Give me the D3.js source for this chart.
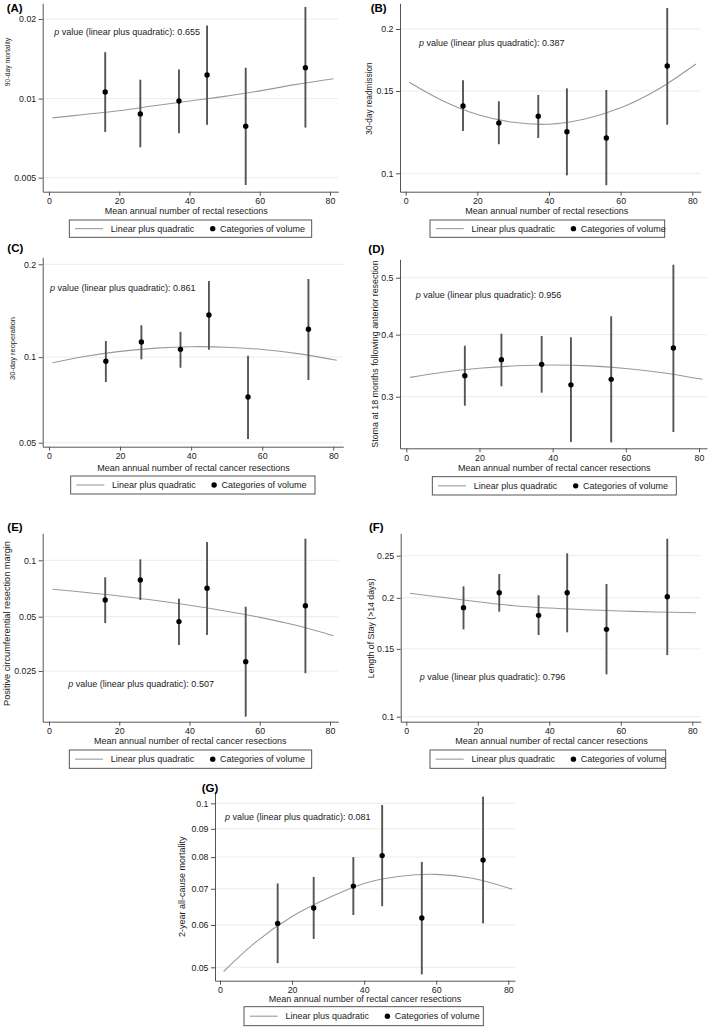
<!DOCTYPE html>
<html>
<head>
<meta charset="utf-8">
<script src="https://cdn.jsdelivr.net/npm/d3@7"></script>
<style>
html,body{margin:0;padding:0;background:#fff;}
svg{display:block;font-family:"Liberation Sans",Arial,sans-serif;}
</style>
</head>
<body>
<svg id="chart" width="709" height="1028"></svg>
<script>
// ---------------- DATA ----------------
const panelIds = ["A","B","C","D","E","F","G"];
const yTitles = [
  "90-day mortality",
  "30-day readmission",
  "30-day reoperation",
  "Stoma at 18 months following anterior resection",
  "Positive circumferential resection margin",
  "Length of Stay (>14 days)",
  "2-year all-cause mortality"
];
const xTitles = [
  "Mean annual number of rectal resections",
  "Mean annual number of rectal resections",
  "Mean annual number of rectal cancer resections",
  "Mean annual number of rectal cancer resections",
  "Mean annual number of rectal cancer resections",
  "Mean annual number of rectal cancer resections",
  "Mean annual number of rectal cancer resections"
];
const pValues = ["0.655","0.387","0.861","0.956","0.507","0.796","0.081"];
const xTicks = [0,20,40,60,80];
const yTicks = [
  [0.02,0.01,0.005],
  [0.2,0.15,0.1],
  [0.2,0.1,0.05],
  [0.5,0.4,0.3],
  [0.1,0.05,0.025],
  [0.25,0.2,0.15,0.1],
  [0.1,0.09,0.08,0.07,0.06,0.05]
];
const yTickLabels = [
  ["0.02","0.01","0.005"],
  ["0.2","0.15","0.1"],
  ["0.2","0.1","0.05"],
  ["0.5","0.4","0.3"],
  ["0.1","0.05","0.025"],
  ["0.25","0.2","0.15","0.1"],
  ["0.1","0.09","0.08","0.07","0.06","0.05"]
];
// categories of volume (x position of each category)
const volumeX = [16,26,37,45,56,73];
const estimates = [
  [0.0106,0.00875,0.0098,0.0123,0.00785,0.0131],
  [0.1396,0.1285,0.1328,0.1231,0.1193,0.1688],
  [0.0968,0.1126,0.1063,0.1384,0.0727,0.1241],
  [0.3323,0.358,0.3505,0.318,0.3266,0.3774],
  [0.0616,0.0789,0.047,0.0712,0.0282,0.0574],
  [0.1895,0.2057,0.1816,0.2057,0.1678,0.2012],
  [0.0604,0.0645,0.0708,0.0805,0.0618,0.079]
];
const lowerCI = [
  [0.00747,0.00653,0.00739,0.00795,0.00469,0.00776],
  [0.1235,0.1157,0.1193,0.099,0.0941,0.1274],
  [0.0821,0.0983,0.092,0.106,0.0516,0.0834],
  [0.2867,0.3157,0.306,0.237,0.2364,0.25],
  [0.0462,0.0616,0.0349,0.0397,0.0138,0.0243],
  [0.1678,0.1853,0.1625,0.165,0.1292,0.1447],
  [0.0509,0.0565,0.0626,0.065,0.0485,0.0604]
];
const upperCI = [
  [0.015,0.0118,0.0129,0.0189,0.0131,0.0222],
  [0.1578,0.1428,0.1472,0.1519,0.1507,0.2195],
  [0.1134,0.128,0.1217,0.1777,0.1011,0.1802],
  [0.3812,0.4016,0.3976,0.3954,0.4318,0.5231],
  [0.0815,0.1012,0.0626,0.124,0.0567,0.1289],
  [0.2129,0.2273,0.2028,0.2531,0.2156,0.2724],
  [0.0716,0.0736,0.08,0.0993,0.0784,0.1028]
];
// fitted linear-plus-quadratic curve, read at these x values
const fitX = [1,10,20,30,40,50,60,70,81];
const fitted = [
  [0.00845,0.0087,0.009,0.0094,0.0098,0.0102,0.0107,0.0113,0.0119],
  [0.1563,0.1435,0.1339,0.1289,0.1277,0.131,0.1383,0.1505,0.1704],
  [0.0957,0.1005,0.1046,0.1073,0.1085,0.1081,0.1062,0.1028,0.0976],
  [0.3297,0.3378,0.3442,0.3481,0.3494,0.348,0.3437,0.337,0.3266],
  [0.0704,0.0678,0.0648,0.0614,0.0577,0.0537,0.0496,0.045,0.0393],
  [0.205,0.2006,0.1958,0.1916,0.1891,0.1874,0.186,0.185,0.1843],
  [0.0491,0.0558,0.0622,0.0673,0.0716,0.0738,0.0744,0.0732,0.0699]
];
const legendLabels = ["Linear plus quadratic","Categories of volume"];

// ---------------- LAYOUT (pixels) ----------------
const layout = [
  {l:42.7,r:338.3,t:3.3,b:191.7,x0:49,x80:330,yc:[19,177.7],lab:[6.7,7.5],pt:[54.3,32],xt:[186.3,211],yt:[7,62,6.8],lg:[69.3,220,311.7,237.3]},
  {l:400,r:700.7,t:3.3,b:191.7,x0:405.7,x80:692.3,yc:[29,173.3],lab:[370.7,8.3],pt:[419,43.3],xt:[546.8,211],yt:[368.5,98.5,8.3],lg:[430,220,664.7,237.3]},
  {l:42.7,r:343.3,t:257.3,b:446.7,x0:49,x80:333.3,yc:[264.3,442.7],lab:[7.3,248.3],pt:[50,288.3],xt:[193.5,468.3],yt:[12,348.5,7.5],lg:[70.7,476,315,494]},
  {l:400,r:707,t:259.3,b:448.3,x0:406.3,x80:699,yc:[277.7,396.7],lab:[368.3,248.7],pt:[415.7,295],xt:[554.2,468.3],yt:[374.5,354,8.9],lg:[432.3,476.7,676.3,495]},
  {l:42.7,r:338.3,t:533.3,b:721.7,x0:49,x80:330,yc:[560.3,671],lab:[7.3,527],pt:[68.3,684],xt:[190.2,741],yt:[6.7,623.5,9.2],lg:[69.3,750,311.7,768.3]},
  {l:400.7,r:700.7,t:533.3,b:721.7,x0:406.3,x80:692.3,yc:[555.7,716.7],lab:[369,527],pt:[419.7,676.7],xt:[551.5,741],yt:[370.7,628.3,8.7],lg:[430,750,665.7,768.3]},
  {l:215,r:515,t:791.7,b:980.7,x0:220,x80:508.3,yc:[803.3,967.3],lab:[201.7,788.3],pt:[225,816.7],xt:[365,999.3],yt:[182,886.7,9],lg:[244,1006.7,483.3,1025.7]}
];

// ---------------- DRAW ----------------
const logit = p => Math.log(p/(1-p));
const svg = d3.select("#chart");
const TEXT = "#1a1a1a", AXIS = "#555", GRID = "#ececec", CURVE = "#9a9a9a", CI = "#555";

panelIds.forEach((id, i) => {
  const L = layout[i];
  const g = svg.append("g");
  const ticks = yTicks[i];
  const xc = d3.scaleLinear().domain([0,80]).range([L.x0, L.x80]);
  const x = d3.scaleLinear().domain([xc.invert(L.l), xc.invert(L.r)]).range([L.l, L.r]);
  const yc = d3.scaleLinear()
    .domain([logit(ticks[0]), logit(ticks[ticks.length-1])])
    .range(L.yc);
  const y = d3.scaleLinear().domain([yc.invert(L.b), yc.invert(L.t)]).range([L.b, L.t]);
  const yp = p => y(logit(p));

  g.selectAll(".grid").data(ticks).join("line")
    .attr("x1", L.l).attr("x2", L.r)
    .attr("y1", d => yp(d)).attr("y2", d => yp(d))
    .attr("stroke", GRID).attr("stroke-width", 1);

  const ax = g.append("g").attr("transform", `translate(0,${L.b})`)
    .call(d3.axisBottom(x).tickValues(xTicks).tickFormat(d3.format("d")).tickSize(4).tickSizeOuter(0).tickPadding(2));
  const ay = g.append("g").attr("transform", `translate(${L.l},0)`)
    .call(d3.axisLeft(y).tickValues(ticks.map(logit)).tickFormat((d,k) => yTickLabels[i][k]).tickSize(4).tickSizeOuter(0).tickPadding(2.5));
  [ax, ay].forEach(a => {
    a.select(".domain").attr("stroke", AXIS);
    a.selectAll(".tick line").attr("stroke", AXIS);
    a.selectAll(".tick text").attr("fill", TEXT).style("font-size", "8.8px").style("font-family", "'Liberation Sans',Arial,sans-serif");
  });

  const line = d3.line().x((d,k) => x(fitX[k])).y(d => yp(d)).curve(d3.curveCatmullRom.alpha(0.5));
  g.append("path").datum(fitted[i]).attr("d", line)
    .attr("fill", "none").attr("stroke", CURVE).attr("stroke-width", 1.1);

  g.selectAll(".ci").data(volumeX).join("line")
    .attr("x1", d => x(d)).attr("x2", d => x(d))
    .attr("y1", (d,k) => yp(lowerCI[i][k])).attr("y2", (d,k) => yp(upperCI[i][k]))
    .attr("stroke", CI).attr("stroke-width", 1.9);

  g.selectAll(".pt").data(volumeX).join("circle")
    .attr("cx", d => x(d)).attr("cy", (d,k) => yp(estimates[i][k]))
    .attr("r", 2.7).attr("fill", "#000");

  const pt = g.append("text").attr("x", L.pt[0]).attr("y", L.pt[1])
    .attr("dominant-baseline", "central").attr("fill", TEXT).style("font-size", "9px");
  pt.append("tspan").attr("font-style", "italic").text("p");
  pt.append("tspan").text(" value (linear plus quadratic): " + pValues[i]);

  g.append("text").attr("x", L.lab[0]).attr("y", L.lab[1]).attr("dominant-baseline", "central")
    .attr("fill", "#000").style("font-size", "11.5px").style("font-weight", "bold").text("(" + id + ")");

  g.append("text").attr("x", L.xt[0]).attr("y", L.xt[1]).attr("text-anchor", "middle")
    .attr("dominant-baseline", "central").attr("fill", TEXT).style("font-size", "9px").text(xTitles[i]);

  g.append("text").attr("transform", `translate(${L.yt[0]},${L.yt[1]}) rotate(-90)`)
    .attr("text-anchor", "middle").attr("dominant-baseline", "central")
    .attr("fill", TEXT).style("font-size", L.yt[2] + "px").text(yTitles[i]);

  const [lx1, ly1, lx2, ly2] = L.lg;
  const lg = g.append("g");
  const cy = (ly1 + ly2) / 2;
  lg.append("rect").attr("x", lx1).attr("y", ly1).attr("width", lx2 - lx1).attr("height", ly2 - ly1)
    .attr("fill", "#fff").attr("stroke", "#444").attr("stroke-width", 0.9);
  lg.append("line").attr("x1", lx1 + 5.7).attr("x2", lx1 + 33.7).attr("y1", cy).attr("y2", cy)
    .attr("stroke", CURVE).attr("stroke-width", 1.1);
  lg.append("text").attr("x", lx1 + 41.4).attr("y", cy).attr("dominant-baseline", "central")
    .attr("fill", TEXT).style("font-size", "9px").text(legendLabels[0]);
  lg.append("circle").attr("cx", lx1 + 143.4).attr("cy", cy).attr("r", 2.7).attr("fill", "#000");
  lg.append("text").attr("x", lx1 + 150.7).attr("y", cy).attr("dominant-baseline", "central")
    .attr("fill", TEXT).style("font-size", "9px").text(legendLabels[1]);
});
</script>
</body>
</html>
